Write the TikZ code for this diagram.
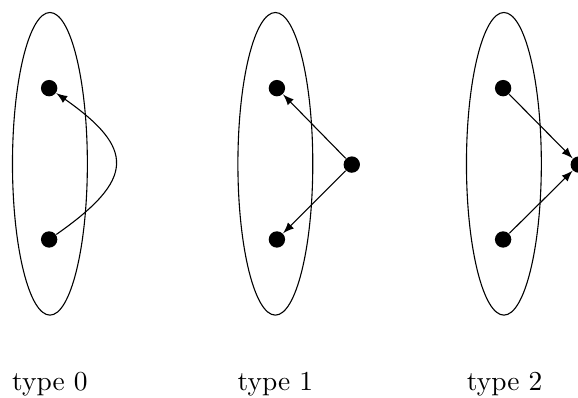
\documentclass[tikz,border=0pt]{standalone}
\usepackage{amsmath}
\usepackage{tikz}

\begin{document}
\begin{tikzpicture}[->, >=latex, dot/.style={circle, fill, inner sep=0pt, minimum size=0.21cm}]
                \useasboundingbox (0,0) rectangle (7.41,5.10);
                % type 0
                \draw[-] (0.64,3.0) ellipse (0.48 and 1.94);
                \node[dot] (U0) at (0.63,3.97) {};
                \node[dot] (L0) at (0.63,2.03) {};
                \draw (L0) to[out=35, in=-35, looseness=1.75] (U0);
                \node[anchor=base] (T0) at (0.64,0.10) {type 0};
                % type 1
                \draw[-] (3.53,3.0) ellipse (0.48 and 1.94);
                \node[dot] (U1) at (3.55,3.97) {};
                \node[dot] (L1) at (3.55,2.03) {};
                \node[dot] (R1) at (4.51,2.99) {};
                \draw (R1) -- (U1);
                \draw (R1) -- (L1);
                \node[anchor=base] (T1) at (3.53,0.10) {type 1};
                % type 2
                \draw[-] (6.46,3.0) ellipse (0.48 and 1.94);
                \node[dot] (U2) at (6.45,3.97) {};
                \node[dot] (L2) at (6.45,2.03) {};
                \node[dot] (R2) at (7.42,2.99) {};
                \draw (U2) -- (R2);
                \draw (L2) -- (R2);
                \node[anchor=base] (T2) at (6.47,0.10) {type 2};
            \end{tikzpicture}
\end{document}
